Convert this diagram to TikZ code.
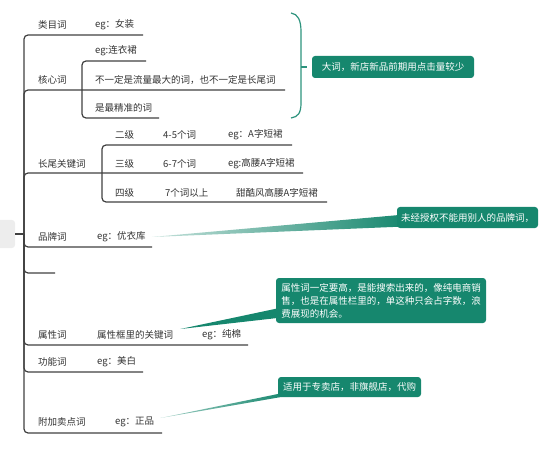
\documentclass[tikz,border=0pt]{standalone}
\usepackage{fontspec}
\newfontfamily\cjk{Noto Sans CJK SC}
\usetikzlibrary{calc,backgrounds}
\definecolor{tealc}{RGB}{22,135,110}
\definecolor{linec}{RGB}{64,64,64}
\definecolor{txtc}{RGB}{51,51,51}
\begin{document}
\begin{tikzpicture}[x=1pt,y=-1pt,
  lbl/.style={anchor=west,inner sep=0pt,font=\cjk\fontsize{9.5}{11}\selectfont,text=txtc},
  br/.style={draw=linec,line width=1.2pt,rounded corners=4pt},
  callout/.style={fill=tealc,rounded corners=3pt,text=white,font=\cjk\fontsize{9.5}{13}\selectfont,inner sep=0pt,align=left},
  rootbox/.style={fill=gray!14,rounded corners=3pt,minimum width=30pt,minimum height=28pt,inner sep=0pt},
  brk/.style={draw=tealc!90,line width=1.2pt},
  wedge/.style={fill=tealc}]
\useasboundingbox (0,0) rectangle (554,449);

% root
\node[rootbox] (root) at (0,234) {};
\coordinate (r) at (24,234);
\draw[br] (root.east) -- (r);

% branch ends
\coordinate (e1) at (143,35);
\coordinate (e2) at (285,90);
\coordinate (e3) at (303,173);
\coordinate (e4) at (152,247);
\coordinate (e5) at (55,273);
\coordinate (e6) at (248,345);
\coordinate (e7) at (143,372);
\coordinate (e8) at (162,433);
\foreach \e in {e1,e2,e3,e4,e5,e6,e7,e8} \draw[br] (r) |- (\e);

% core word sub-branches
\coordinate (k) at (82,90);
\coordinate (k1) at (146,61);
\coordinate (k3) at (159,118);
\draw[br] (k) |- (k1);
\draw[br] (k) |- (k3);

% long-tail sub-branches
\coordinate (c) at (102,173);
\coordinate (c1) at (292,145);
\coordinate (c3) at (327,202);
\draw[br] (c) |- (c1);
\draw[br] (c) |- (c3);

% labels
\node[lbl] (t1) at (38,25) {类目词};
\node[lbl] (t1e) at (95,25) {eg：女装};
\node[lbl] (t2) at (38,80) {核心词};
\node[lbl] (t2a) at (95,51) {eg:连衣裙};
\node[lbl] (t2b) at (95,80) {不一定是流量最大的词，也不一定是长尾词};
\node[lbl] (t2c) at (95,108) {是最精准的词};
\node[lbl] (t3) at (38,164) {长尾关键词};
\node[lbl] (t3a) at (115,135) {二级};
\node[lbl] (t3a2) at (163,135) {4-5个词};
\node[lbl] (t3a3) at (228,135) {eg：A字短裙};
\node[lbl] (t3b) at (115,164) {三级};
\node[lbl] (t3b2) at (163,164) {6-7个词};
\node[lbl] (t3b3) at (228,164) {eg:高腰A字短裙};
\node[lbl] (t3c) at (115,193) {四级};
\node[lbl] (t3c2) at (165,193) {7个词以上};
\node[lbl] (t3c3) at (236,193) {甜酷风高腰A字短裙};
\node[lbl] (t4) at (38,237) {品牌词};
\node[lbl] (t4e) at (97,237) {eg：优衣库};
\node[lbl] (t6) at (38,335) {属性词};
\node[lbl] (t6b) at (97,335) {属性框里的关键词};
\node[lbl] (t6e) at (202,335) {eg：纯棉};
\node[lbl] (t7) at (38,362) {功能词};
\node[lbl] (t7e) at (97,362) {eg：美白};
\node[lbl] (t8) at (38,422) {附加卖点词};
\node[lbl] (t8e) at (115,422) {eg：正品};

% callouts
\node[callout,minimum width=162pt,minimum height=22pt,align=center] (cb1) at (393,67) {大词，新店新品前期用点击量较少};
\node[callout,minimum width=141pt,minimum height=21pt,align=center] (cb2) at (467.5,217.5) {未经授权不能用别人的品牌词，};
\node[callout,minimum width=210pt,minimum height=45pt] (cb3) at (381,300.5) {属性词一定要高，是能搜索出来的，像纯电商销\\售，也是在属性栏里的，单这种只会占字数，浪\\费展现的机会。};
\node[callout,minimum width=143pt,minimum height=20pt,align=center] (cb4) at (349.5,387) {适用于专卖店，非旗舰店，代购};

% bracket
\draw[brk] (291,13) .. controls (298,14) and (301,20) .. (301,32) -- (301,103) .. controls (301,113) and (298,117) .. (291,118);
\coordinate (bt) at (301,67);
\draw[brk] (bt) -- ($(cb1.west)+(-5,0)$);

% wedges
\begin{scope}[on background layer]
\shade[left color=tealc!25,right color=tealc] ($(t4e.east)+(6,0)$) -- ($(cb2.west)+(8,-3)$) -- ($(cb2.west)+(8,9)$) -- cycle;
\fill[wedge] ($(t6b.east)+(7,-6)$) -- ($(cb3.west)+(6,7)$) -- ($(cb3.west)+(6,17)$) -- cycle;
\shade[left color=tealc!40,right color=tealc] ($(t8e.east)+(6,-4)$) -- ($(cb4.south west)+(4,-4)$) -- ($(cb4.south west)+(8,-1)$) -- cycle;
\end{scope}
\end{tikzpicture}
\end{document}
